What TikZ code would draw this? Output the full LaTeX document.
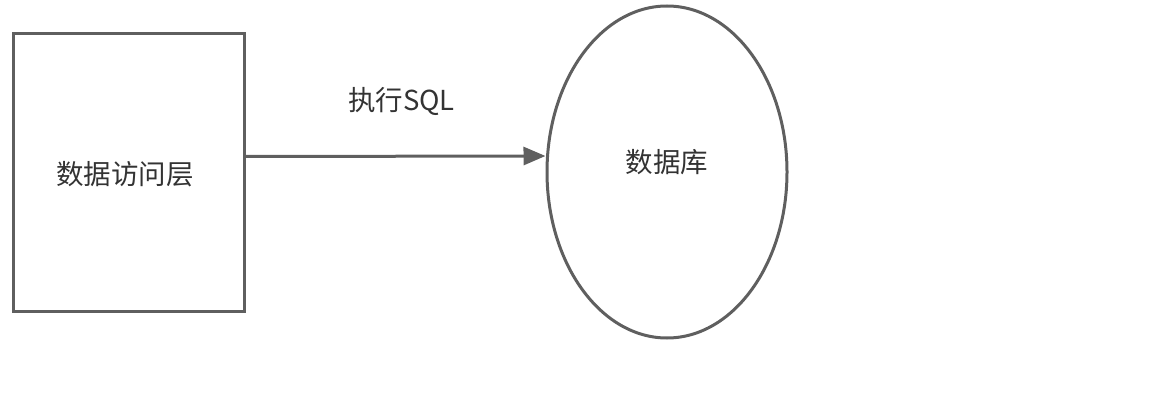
\documentclass[tikz,border=0pt]{standalone}
\usepackage{fontspec}
\setmainfont{Noto Sans CJK SC}
\usetikzlibrary{shapes.geometric,arrows.meta}
\definecolor{linegray}{HTML}{5F5F5F}
\definecolor{textgray}{HTML}{333333}
\begin{document}
\begin{tikzpicture}[x=1pt,y=-1pt,
        box/.style={draw=linegray,line width=3pt,minimum width=231pt,minimum height=278pt,inner sep=0pt},
        oval/.style={ellipse,draw=linegray,line width=3pt,minimum width=240pt,minimum height=332pt,inner sep=0pt},
        lbl/.style={text=textgray,font=\fontsize{27.5}{32}\selectfont},
        arr/.style={draw=linegray,line width=3pt,-{Triangle[length=22pt,width=18pt]}}]
        \useasboundingbox (0,0) rectangle (1169,409);
        \node[box] (dal) at (128.5,172.5) {};
        \node[lbl] (daltxt) at (125,174) {数据访问层};
        \node[oval] (db) at (667,172) {};
        \node[lbl] (dbtxt) at (667,162) {数据库};
        \draw[arr] ([yshift=16pt]dal.east) -- ([yshift=16pt]db.west)
            node[lbl,midway,above=36pt,xshift=6pt] (sql) {执行SQL};
    \end{tikzpicture}
\end{document}
